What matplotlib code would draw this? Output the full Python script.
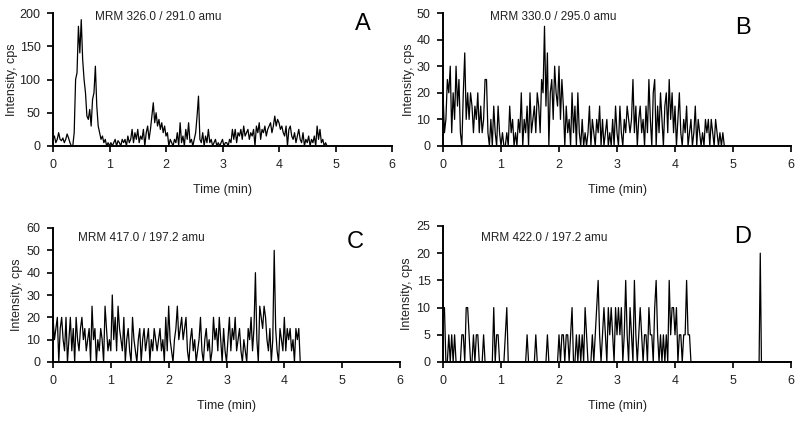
import numpy as np
import matplotlib
matplotlib.use("Agg")
import matplotlib.pyplot as plt

plt.rcParams['font.family'] = ['Liberation Sans', 'DejaVu Sans']

# sampling step (min) of the traces
dt = 0.025

# A: MRM 326.0 / 291.0
a_vals = [10, 15, 5, 10, 20, 10, 8, 12, 5, 10,
          18, 12, 5, 0, 0, 20, 100, 110, 180, 140,
          190, 130, 100, 80, 45, 40, 55, 30, 70, 80,
          120, 60, 30, 20, 10, 15, 5, 10, 0, 5,
          0, 5, 0, 5, 10, 0, 8, 5, 0, 10,
          5, 10, 0, 15, 5, 10, 25, 5, 20, 10,
          25, 5, 15, 10, 25, 0, 20, 30, 10, 25,
          45, 65, 35, 50, 30, 40, 25, 35, 20, 30,
          15, 20, 0, 10, 5, 0, 10, 5, 20, 0,
          35, 5, 15, 0, 25, 10, 35, 5, 10, 0,
          10, 20, 45, 75, 10, 5, 20, 0, 15, 5,
          25, 5, 10, 0, 5, 10, 0, 5, 0, 5,
          10, 0, 5, 5, 0, 10, 5, 25, 10, 25,
          5, 20, 15, 25, 10, 30, 15, 20, 25, 10,
          20, 15, 25, 0, 30, 20, 35, 10, 25, 20,
          30, 15, 25, 30, 35, 20, 30, 45, 30, 40,
          35, 25, 30, 20, 15, 30, 0, 25, 30, 15,
          10, 20, 5, 15, 25, 10, 5, 20, 0, 10,
          5, 15, 0, 10, 5, 15, 0, 30, 10, 25,
          5, 10, 0, 5, 0]

# B: MRM 330.0 / 295.0
b_vals = [20, 5, 10, 25, 20, 30, 5, 20, 10, 30,
          15, 25, 5, 0, 20, 35, 10, 20, 10, 20,
          15, 5, 15, 10, 20, 5, 15, 5, 10, 25,
          25, 5, 0, 10, 0, 15, 5, 0, 15, 5,
          0, 5, 0, 0, 5, 0, 15, 5, 10, 0,
          5, 0, 10, 5, 20, 0, 10, 5, 15, 0,
          20, 5, 10, 15, 5, 20, 15, 5, 25, 20,
          45, 15, 35, 0, 20, 25, 10, 30, 20, 15,
          30, 10, 25, 15, 0, 15, 5, 10, 0, 20,
          5, 15, 0, 20, 5, 0, 10, 0, 5, 0,
          5, 15, 0, 10, 5, 0, 10, 5, 15, 0,
          10, 0, 5, 10, 0, 5, 0, 10, 0, 15,
          5, 0, 15, 5, 0, 10, 5, 15, 10, 5,
          10, 25, 5, 15, 0, 10, 15, 5, 10, 0,
          15, 5, 25, 10, 0, 20, 25, 0, 15, 5,
          20, 10, 0, 15, 20, 5, 25, 10, 20, 5,
          15, 0, 10, 20, 5, 0, 10, 5, 15, 0,
          5, 10, 0, 5, 15, 0, 10, 5, 0, 5,
          0, 10, 5, 10, 0, 10, 5, 0, 10, 5,
          0, 5, 0, 5, 0]

# C: MRM 417.0 / 197.2
c_vals = [20, 10, 15, 20, 0, 15, 20, 10, 5, 20,
          0, 10, 20, 5, 15, 0, 20, 10, 5, 15,
          20, 10, 15, 5, 10, 15, 0, 25, 10, 15,
          0, 10, 5, 15, 10, 0, 25, 15, 5, 10,
          5, 30, 10, 20, 5, 25, 15, 10, 5, 20,
          0, 10, 15, 5, 0, 20, 10, 5, 0, 10,
          15, 0, 10, 15, 5, 10, 15, 0, 10, 5,
          15, 10, 5, 10, 15, 5, 10, 0, 20, 5,
          25, 10, 5, 0, 10, 15, 25, 10, 15, 20,
          10, 15, 20, 5, 0, 10, 15, 5, 10, 0,
          5, 10, 20, 5, 0, 10, 15, 5, 10, 0,
          5, 20, 10, 15, 5, 20, 10, 0, 15, 5,
          0, 10, 20, 5, 15, 10, 20, 5, 10, 15,
          5, 0, 10, 5, 0, 15, 10, 20, 5, 15,
          40, 10, 0, 25, 20, 15, 25, 20, 10, 5,
          15, 0, 10, 50, 15, 5, 0, 15, 10, 5,
          20, 5, 15, 10, 15, 5, 10, 0, 15, 10,
          15, 0]

# D: MRM 422.0 / 197.2
d_vals = [10, 10, 0, 0, 5, 0, 5, 0, 5, 0,
          0, 0, 0, 5, 5, 0, 10, 10, 5, 0,
          0, 5, 0, 5, 5, 0, 0, 0, 5, 0,
          0, 0, 0, 0, 0, 10, 0, 5, 5, 0,
          0, 0, 0, 5, 10, 0, 0, 0, 0, 0,
          0, 0, 0, 0, 0, 0, 0, 0, 5, 0,
          0, 0, 0, 0, 5, 0, 0, 0, 0, 0,
          0, 0, 5, 0, 0, 0, 0, 0, 0, 0,
          5, 0, 5, 5, 0, 5, 5, 0, 5, 10,
          0, 0, 5, 0, 5, 0, 5, 0, 10, 5,
          0, 0, 0, 5, 0, 5, 10, 15, 5, 0,
          5, 10, 5, 0, 10, 5, 10, 5, 0, 10,
          5, 10, 5, 10, 0, 5, 15, 5, 0, 10,
          5, 0, 15, 5, 0, 5, 10, 5, 0, 5,
          5, 0, 10, 5, 5, 0, 10, 15, 5, 0,
          5, 0, 5, 0, 5, 0, 15, 5, 10, 10,
          5, 10, 0, 5, 5, 0, 5, 5, 15, 5,
          5, 0]
# isolated late spike in D
d_tail_t = [4.3, 5.45, 5.47, 5.49, 6.0]
d_tail_v = [0, 0, 20, 0, 0]

panels = [
    ("A", "MRM 326.0 / 291.0 amu", a_vals, 200, 50),
    ("B", "MRM 330.0 / 295.0 amu", b_vals, 50, 10),
    ("C", "MRM 417.0 / 197.2 amu", c_vals, 60, 10),
    ("D", "MRM 422.0 / 197.2 amu", d_vals, 25, 5),
]

W, H = 800, 421
# axes boxes in pixels: left, right, top, bottom
boxes = [(53, 392, 13, 146), (443, 791, 13, 146),
         (53, 400, 228, 362), (443, 791, 226, 362)]
text_pos = [(95, 17), (490, 17), (78, 238), (481, 238)]
letter_pos = [(363, 24), (743, 28), (355, 242), (743, 237)]
ylab_x = [12, 409, 17, 407]

fig = plt.figure(figsize=(8, 4.21), dpi=100)

for i, (letter, label, vals, ymax, ystep) in enumerate(panels):
    l, r, t, b = boxes[i]
    ax = fig.add_axes([l / W, 1 - b / H, (r - l) / W, (b - t) / H])
    times = np.arange(len(vals)) * dt
    ax.plot(times, vals, color="black", lw=0.9)
    if letter == "D":
        ax.plot(d_tail_t, d_tail_v, color="black", lw=0.9)
    ax.set_xlim(0, 6)
    ax.set_ylim(0, ymax)
    ax.set_xticks(range(7))
    ax.set_yticks(np.arange(0, ymax + 1, ystep))
    for s in ["top", "right"]:
        ax.spines[s].set_visible(False)
    ax.spines["left"].set_linewidth(1.4)
    ax.spines["bottom"].set_linewidth(1.4)
    ax.tick_params(direction="out", length=4, width=1.4, labelsize=9,
                   pad=5, colors="#222222")
    ax.set_xlabel("Time (min)", fontsize=9, labelpad=10, color="#222222")
    fig.text(ylab_x[i] / W, 1 - ((t + b) / 2) / H, "Intensity, cps",
             rotation=90, fontsize=9, ha="center", va="center",
             color="#222222")
    fig.text(text_pos[i][0] / W, 1 - text_pos[i][1] / H, label,
             fontsize=8.5, ha="left", va="center", color="#222222")
    fig.text(letter_pos[i][0] / W, 1 - letter_pos[i][1] / H, letter,
             fontsize=17, ha="center", va="center")

fig.savefig("out.png", dpi=100)
